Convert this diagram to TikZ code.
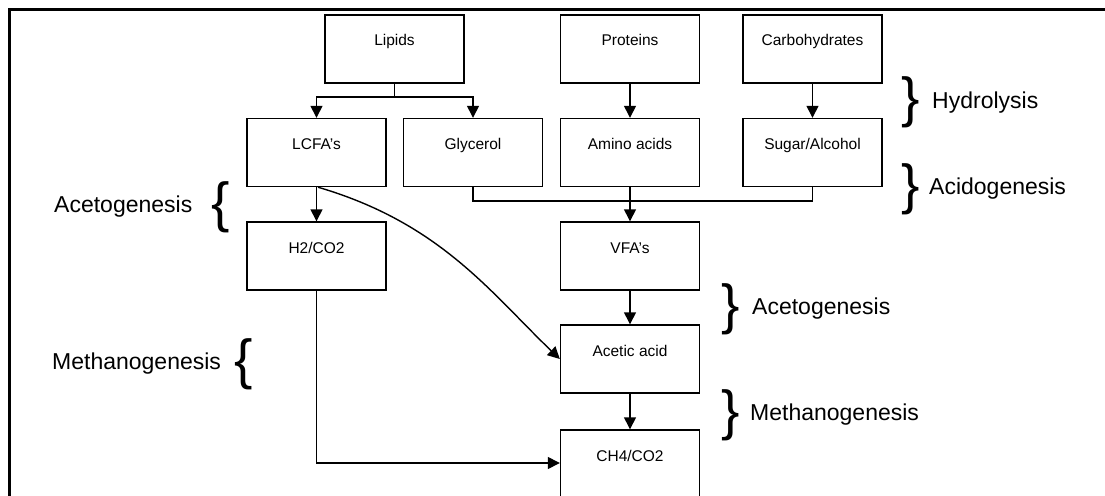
\documentclass[tikz,border=0pt]{standalone}
\usepackage{fontspec}
\setmainfont{Liberation Sans}
\usetikzlibrary{arrows.meta}
\begin{document}
\begin{tikzpicture}[x=1pt,y=1pt,
  stepbox/.style={draw, line width=1.4pt, minimum width=139pt, inner sep=0pt,
    text height=31pt, text depth=37pt, anchor=center,
    font=\fontsize{15.5}{15.5}\selectfont},
  conn/.style={line width=1.4pt},
  arr/.style={conn, -{Triangle[length=12pt,width=12pt]}},
  bracechar/.style={inner sep=0pt, anchor=center, font=\fontsize{55}{55}\selectfont},
  phase/.style={inner sep=0pt, anchor=base west, font=\fontsize{23}{23}\selectfont}]
\useasboundingbox (0,0) rectangle (1105,-495);
% frame
\draw[line width=3pt] (9,-700) -- (9,-10) -- (1400,-10);
% boxes
\node[stepbox] (lipids) at (394.5,-49) {Lipids};
\node[stepbox] (proteins) at (630,-49) {Proteins};
\node[stepbox] (carb) at (812.5,-49) {Carbohydrates};
\node[stepbox] (lcfa) at (316.5,-152.5) {LCFA’s};
\node[stepbox] (glyc) at (473,-152.5) {Glycerol};
\node[stepbox] (amino) at (630,-152.5) {Amino acids};
\node[stepbox] (sugar) at (812.5,-152.5) {Sugar/Alcohol};
\node[stepbox] (h2) at (316.5,-256) {H2/CO2};
\node[stepbox] (vfa) at (630,-256) {VFA’s};
\node[stepbox] (acetic) at (630,-359) {Acetic acid};
\node[stepbox] (ch4) at (630,-464) {CH4/CO2};
% connectors
\coordinate (lsplit) at (394.5,-97);
\draw[conn] (lipids.south) -- (lsplit);
\draw[arr] (lsplit) -| (lcfa.north);
\draw[arr] (lsplit) -| (glyc.north);
\draw[arr] (proteins.south) -- (amino.north);
\draw[arr] (carb.south) -- (sugar.north);
\coordinate (amerge) at (473,-201);
\draw[conn] (glyc.south) -- (glyc.south |- amerge) -- (sugar.south |- amerge) -- (sugar.south);
\draw[arr] (amino.south) -- (vfa.north);
\draw[arr] (lcfa.south) -- (h2.north);
\draw[arr] (vfa.south) -- (acetic.north);
\draw[arr] (acetic.south) -- (ch4.north);
\draw[arr] (h2.south) |- ([yshift=1pt]ch4.west);
\draw[arr] ([xshift=1.5pt]lcfa.south) .. controls (440,-223) and (490,-292) .. (acetic.west);
% braces and phase labels
\node[bracechar] (b1) at (911,-102.5) {\}};
\node[phase] (t1) at (932,-108.2) {Hydrolysis};
\node[bracechar] (b2) at (911,-189) {\}};
\node[phase] (t2) at (929,-194.7) {Acidogenesis};
\node[bracechar] (b3) at (731,-309.5) {\}};
\node[phase] (t3) at (752,-314.5) {Acetogenesis};
\node[bracechar] (b4) at (731,-415) {\}};
\node[phase] (t4) at (750,-420.7) {Methanogenesis};
\node[bracechar] (b5) at (221,-207) {\{};
\node[phase] (t5) at (54,-212.7) {Acetogenesis};
\node[bracechar] (b6) at (244,-364) {\{};
\node[phase] (t6) at (52,-369.2) {Methanogenesis};
\end{tikzpicture}
\end{document}
